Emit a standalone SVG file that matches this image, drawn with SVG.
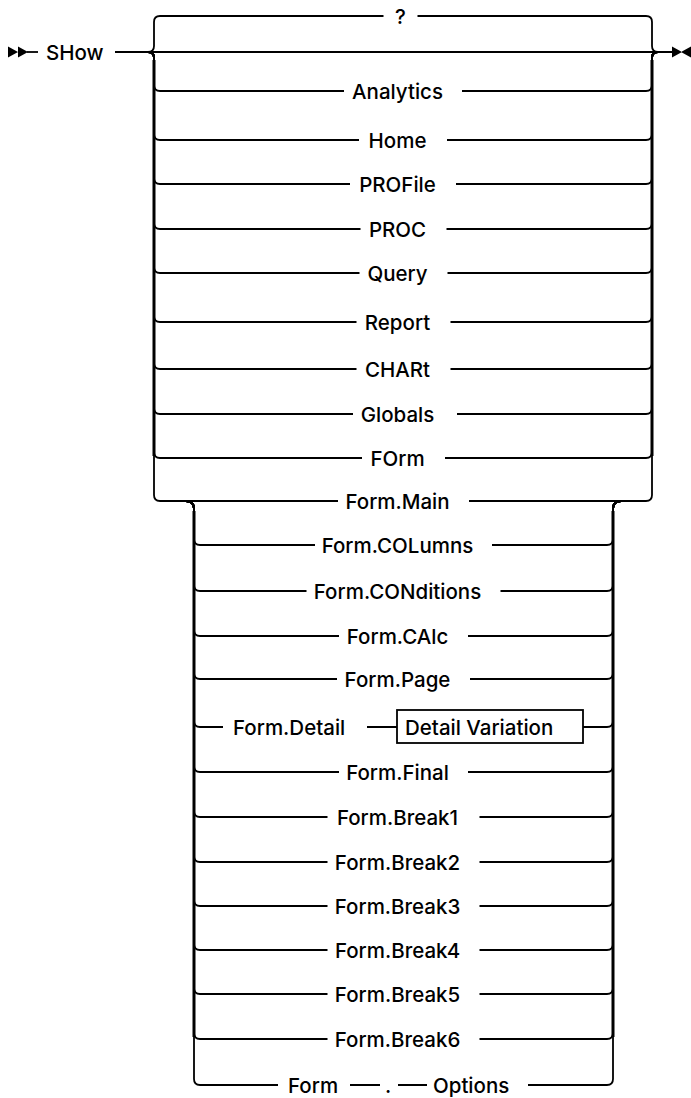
<svg xmlns="http://www.w3.org/2000/svg" width="691" height="1098" viewBox="0 0 691 1098">
<style>
  .rail{fill:none;stroke:#000;stroke-width:1.8;stroke-linecap:butt}
  .thick{fill:none;stroke:#000;stroke-width:3}
  .t{font-family:Inter,"Liberation Sans",sans-serif;font-size:20.5px;font-weight:500;fill:#000}
  .m{text-anchor:middle}
  .box{fill:#fff;stroke:#000;stroke-width:1.8}
  .mk{fill:#000}
</style>
<rect width="691" height="1098" fill="#fff"/>
<g id="connectors">
  <path class="mk" d="M8,46.5 L18,52 L8,57.5 Z M18,46.5 L28,52 L18,57.5 Z"/>
  <path class="rail" d="M27,52 H38"/>
  <path class="rail" d="M115,52 H672"/>
  <path class="mk" d="M672,46.5 L682,52 L672,57.5 Z M691,46.5 L681,52 L691,57.5 Z"/>
  <path class="thick" d="M154,60 V456 M652,60 V456 M194,511 V1037 M613,511 V1037"/>
  <path class="rail" d="M148,52 Q154,52 154,46 V22 Q154,16 160,16 H383.5"/>
  <path class="rail" d="M417.5,16 H646 Q652,16 652,22 V46 Q652,52 658,52"/>
  <path class="rail" d="M148,52 Q154,52 154,58 V85 Q154,91 160,91 H344 M462,91 H646 Q652,91 652,85 V58 Q652,52 658,52"/>
  <path class="rail" d="M148,52 Q154,52 154,58 V134 Q154,140 160,140 H359 M447,140 H646 Q652,140 652,134 V58 Q652,52 658,52"/>
  <path class="rail" d="M148,52 Q154,52 154,58 V178 Q154,184 160,184 H350 M456,184 H646 Q652,184 652,178 V58 Q652,52 658,52"/>
  <path class="rail" d="M148,52 Q154,52 154,58 V223 Q154,229 160,229 H360.5 M446.5,229 H646 Q652,229 652,223 V58 Q652,52 658,52"/>
  <path class="rail" d="M148,52 Q154,52 154,58 V267 Q154,273 160,273 H359.5 M447.5,273 H646 Q652,273 652,267 V58 Q652,52 658,52"/>
  <path class="rail" d="M148,52 Q154,52 154,58 V316 Q154,322 160,322 H356.5 M450.5,322 H646 Q652,322 652,316 V58 Q652,52 658,52"/>
  <path class="rail" d="M148,52 Q154,52 154,58 V363 Q154,369 160,369 H356.5 M450.5,369 H646 Q652,369 652,363 V58 Q652,52 658,52"/>
  <path class="rail" d="M148,52 Q154,52 154,58 V408 Q154,414 160,414 H353 M457,414 H646 Q652,414 652,408 V58 Q652,52 658,52"/>
  <path class="rail" d="M148,52 Q154,52 154,58 V452 Q154,458 160,458 H362 M445,458 H646 Q652,458 652,452 V58 Q652,52 658,52"/>
  <path class="rail" d="M148,52 Q154,52 154,58 V495 Q154,501 160,501 H338 M469,501 H646 Q652,501 652,495 V58 Q652,52 658,52"/>
  <path class="rail" d="M186,501 Q194,501 194,509 V539 Q194,545 200,545 H315 M492,545 H607 Q613,545 613,539 V509 Q613,501 621,501"/>
  <path class="rail" d="M186,501 Q194,501 194,509 V585 Q194,591 200,591 H306.5 M500.5,591 H607 Q613,591 613,585 V509 Q613,501 621,501"/>
  <path class="rail" d="M186,501 Q194,501 194,509 V630 Q194,636 200,636 H339 M468,636 H607 Q613,636 613,630 V509 Q613,501 621,501"/>
  <path class="rail" d="M186,501 Q194,501 194,509 V673 Q194,679 200,679 H337 M470,679 H607 Q613,679 613,673 V509 Q613,501 621,501"/>
  <path class="rail" d="M186,501 Q194,501 194,509 V721 Q194,727 200,727 H223 M367,727 H397 M583,727 H607 Q613,727 613,721 V509 Q613,501 621,501"/>
  <path class="rail" d="M186,501 Q194,501 194,509 V766 Q194,772 200,772 H339 M468,772 H607 Q613,772 613,766 V509 Q613,501 621,501"/>
  <path class="rail" d="M186,501 Q194,501 194,509 V811 Q194,817 200,817 H327.5 M479.5,817 H607 Q613,817 613,811 V509 Q613,501 621,501"/>
  <path class="rail" d="M186,501 Q194,501 194,509 V856 Q194,862 200,862 H327.5 M479.5,862 H607 Q613,862 613,856 V509 Q613,501 621,501"/>
  <path class="rail" d="M186,501 Q194,501 194,509 V900 Q194,906 200,906 H327.5 M479.5,906 H607 Q613,906 613,900 V509 Q613,501 621,501"/>
  <path class="rail" d="M186,501 Q194,501 194,509 V944 Q194,950 200,950 H327.5 M479.5,950 H607 Q613,950 613,944 V509 Q613,501 621,501"/>
  <path class="rail" d="M186,501 Q194,501 194,509 V988 Q194,994 200,994 H327.5 M479.5,994 H607 Q613,994 613,988 V509 Q613,501 621,501"/>
  <path class="rail" d="M186,501 Q194,501 194,509 V1033 Q194,1039 200,1039 H327.5 M479.5,1039 H607 Q613,1039 613,1033 V509 Q613,501 621,501"/>
  <path class="rail" d="M186,501 Q194,501 194,509 V1079 Q194,1085 200,1085 H278 M350,1085 H380 M398,1085 H427 M528,1085 H607 Q613,1085 613,1079 V509 Q613,501 621,501"/>
</g>
<g id="n-show"><text class="t" x="46" y="59.5">SHow</text></g>
<g id="n-q"><text class="t m" x="400.5" y="23.5">?</text></g>
<g id="n-analytics"><text class="t m" x="397.5" y="98.5">Analytics</text></g>
<g id="n-home"><text class="t m" x="397.5" y="147.5">Home</text></g>
<g id="n-profile"><text class="t m" x="397.5" y="191.5">PROFile</text></g>
<g id="n-proc"><text class="t m" x="397.5" y="236.5">PROC</text></g>
<g id="n-query"><text class="t m" x="397.5" y="280.5">Query</text></g>
<g id="n-report"><text class="t m" x="397.5" y="329.5">Report</text></g>
<g id="n-chart"><text class="t m" x="397.5" y="376.5">CHARt</text></g>
<g id="n-globals"><text class="t m" x="397.5" y="421.5">Globals</text></g>
<g id="n-form"><text class="t m" x="397.5" y="465.5">FOrm</text></g>
<g id="n-formmain"><text class="t m" x="397.5" y="508.5">Form.Main</text></g>
<g id="n-columns"><text class="t m" x="397.5" y="552.5">Form.COLumns</text></g>
<g id="n-conditions"><text class="t m" x="397.5" y="598.5">Form.CONditions</text></g>
<g id="n-calc"><text class="t m" x="397.5" y="643.5">Form.CAlc</text></g>
<g id="n-page"><text class="t m" x="397.5" y="686.5">Form.Page</text></g>
<g id="n-detail"><text class="t" x="233" y="734.5">Form.Detail</text></g>
<g id="n-detailvar"><rect class="box" x="397" y="710" width="186" height="33"/><text class="t" x="405" y="734.5">Detail Variation</text></g>
<g id="n-final"><text class="t m" x="397.5" y="779.5">Form.Final</text></g>
<g id="n-break1"><text class="t m" x="397.5" y="824.5">Form.Break1</text></g>
<g id="n-break2"><text class="t m" x="397.5" y="869.5">Form.Break2</text></g>
<g id="n-break3"><text class="t m" x="397.5" y="913.5">Form.Break3</text></g>
<g id="n-break4"><text class="t m" x="397.5" y="957.5">Form.Break4</text></g>
<g id="n-break5"><text class="t m" x="397.5" y="1001.5">Form.Break5</text></g>
<g id="n-break6"><text class="t m" x="397.5" y="1046.5">Form.Break6</text></g>
<g id="n-formopt"><text class="t" x="288" y="1092.5">Form</text></g>
<g id="n-dot"><text class="t" x="385" y="1092.5">.</text></g>
<g id="n-options"><text class="t" x="433" y="1092.5">Options</text></g>
</svg>
